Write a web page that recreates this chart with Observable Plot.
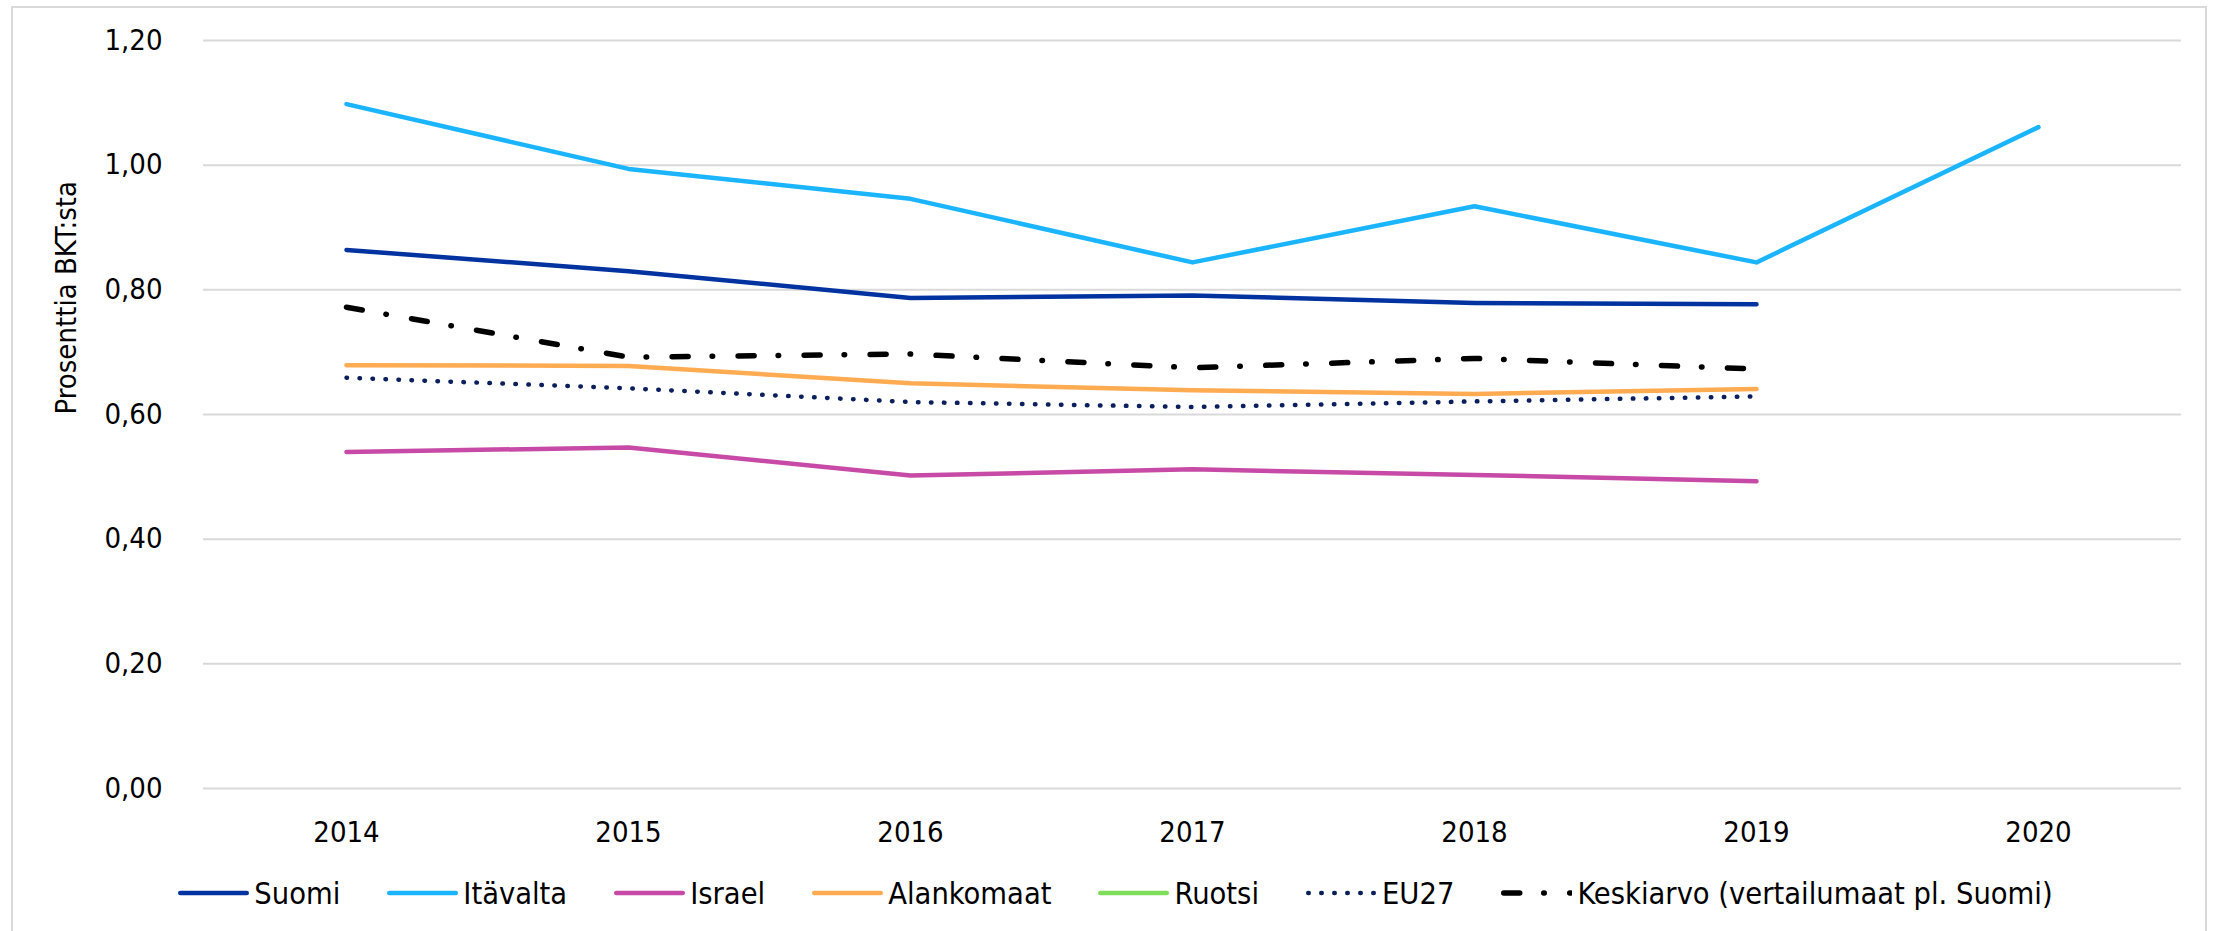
<!DOCTYPE html>
<html>
<head>
<meta charset="utf-8">
<script src="https://cdn.jsdelivr.net/npm/d3@7"></script>
<script src="https://cdn.jsdelivr.net/npm/@observablehq/plot@0.6"></script>
<style>
  html, body { margin: 0; padding: 0; background: #fff; overflow: hidden; }
  body { width: 2213px; height: 931px; position: relative;
         font-family: "DejaVu Sans Condensed", "DejaVu Sans", sans-serif; font-stretch: condensed; }
  #frame { position: absolute; left: 11px; top: 6px; width: 2196px; height: 960px;
           border: 2px solid #d9d9d9; pointer-events: none; box-sizing: border-box; }
  #legend { display: flex; justify-content: center; align-items: center; height: 46px;
            font-size: 30.5px; color: #000; padding-left: 18px; }
  .item { display: flex; align-items: center; margin-right: 47px; white-space: nowrap; }
  .item:last-child { margin-right: 0; }
  .item svg { margin-right: 5px; display: block; }
</style>
</head>
<body>
<div id="chart"></div>
<div id="legend"></div>
<div id="frame"></div>
<script>
// ---- data ----
const years = ["2014", "2015", "2016", "2017", "2018", "2019", "2020"];
const seriesNames = ["Suomi", "Itävalta", "Israel", "Alankomaat", "Ruotsi", "EU27", "Keskiarvo (vertailumaat pl. Suomi)"];
const suomi      = [0.864, 0.830, 0.787, 0.791, 0.779, 0.777, null];
const itavalta   = [1.098, 0.994, 0.946, 0.844, 0.934, 0.844, 1.061];
const israel     = [0.540, 0.547, 0.502, 0.512, 0.503, 0.493, null];
const alankomaat = [0.679, 0.678, 0.650, 0.639, 0.633, 0.641, null];
const ruotsi     = [null, null, null, null, null, null, null];
const eu27       = [0.659, 0.642, 0.620, 0.612, 0.621, 0.629, null];
const keskiarvo  = [0.772, 0.692, 0.697, 0.675, 0.690, 0.673, null];
const yTicks = [0, 0.2, 0.4, 0.6, 0.8, 1.0, 1.2];
const yLabel = "Prosenttia BKT:sta";

// ---- styles ----
const values = [suomi, itavalta, israel, alankomaat, ruotsi, eu27, keskiarvo];
const styles = [
  {stroke: "#0032a0", strokeWidth: 4.5},
  {stroke: "#1ab4ff", strokeWidth: 4.5},
  {stroke: "#c64aa6", strokeWidth: 4.5},
  {stroke: "#ffab52", strokeWidth: 4.5},
  {stroke: "#7fdd5c", strokeWidth: 4.5},
  {stroke: "#0b1f5c", strokeWidth: 4.5, strokeDasharray: "0.5,12.5"},
  {stroke: "#000000", strokeWidth: 5.5, strokeDasharray: "16,24,0.5,25.5"}
];

const rows = [];
seriesNames.forEach((name, i) => {
  years.forEach((yr, j) => {
    if (values[i][j] != null) rows.push({series: name, year: yr, value: values[i][j]});
  });
});

const fmt = d => d.toFixed(2).replace(".", ",");

const lineMarks = seriesNames.map((name, i) =>
  Plot.lineY(rows.filter(r => r.series === name), {
    x: "year", y: "value",
    strokeLinecap: "round", strokeLinejoin: "round",
    ...styles[i]
  })
);

const chart = Plot.plot({
  width: 2213,
  height: 870,
  marginLeft: 203,
  marginRight: 32,
  marginTop: 40,
  marginBottom: 82,
  style: {fontFamily: '"DejaVu Sans Condensed", "DejaVu Sans", sans-serif', fontSize: "29px", color: "#000", background: "transparent", fontStretch: "condensed"},
  x: {type: "point", domain: years, padding: 0.5},
  y: {domain: [0, 1.2]},
  marks: [
    Plot.gridY(yTicks, {stroke: "#d9d9d9", strokeOpacity: 1, strokeWidth: 2}),
    Plot.axisY(yTicks, {tickSize: 0, tickPadding: 41, tickFormat: fmt, label: null, fontSize: 29}),
    Plot.axisX({tickSize: 0, tickPadding: 33, label: null, fontSize: 29}),
    Plot.text([yLabel], {frameAnchor: "left", rotate: -90, dx: -137, fontSize: 29, fill: "#000"}),
    ...lineMarks
  ]
});
document.getElementById("chart").appendChild(chart);

// ---- legend ----
const legend = document.getElementById("legend");
seriesNames.forEach((name, i) => {
  const s = styles[i];
  const item = document.createElement("div");
  item.className = "item";
  const ns = "http://www.w3.org/2000/svg";
  const svg = document.createElementNS(ns, "svg");
  svg.setAttribute("width", 71);
  svg.setAttribute("height", 14);
  const ln = document.createElementNS(ns, "line");
  const half = s.strokeWidth / 2;
  ln.setAttribute("x1", half);
  ln.setAttribute("x2", i === 6 ? 69.5 : 71 - half);
  ln.setAttribute("y1", 7);
  ln.setAttribute("y2", 7);
  ln.setAttribute("stroke", s.stroke);
  ln.setAttribute("stroke-width", s.strokeWidth);
  ln.setAttribute("stroke-linecap", "round");
  if (s.strokeDasharray) ln.setAttribute("stroke-dasharray", s.strokeDasharray);
  svg.appendChild(ln);
  const span = document.createElement("span");
  span.textContent = name;
  item.appendChild(svg);
  item.appendChild(span);
  legend.appendChild(item);
});
</script>
</body>
</html>
